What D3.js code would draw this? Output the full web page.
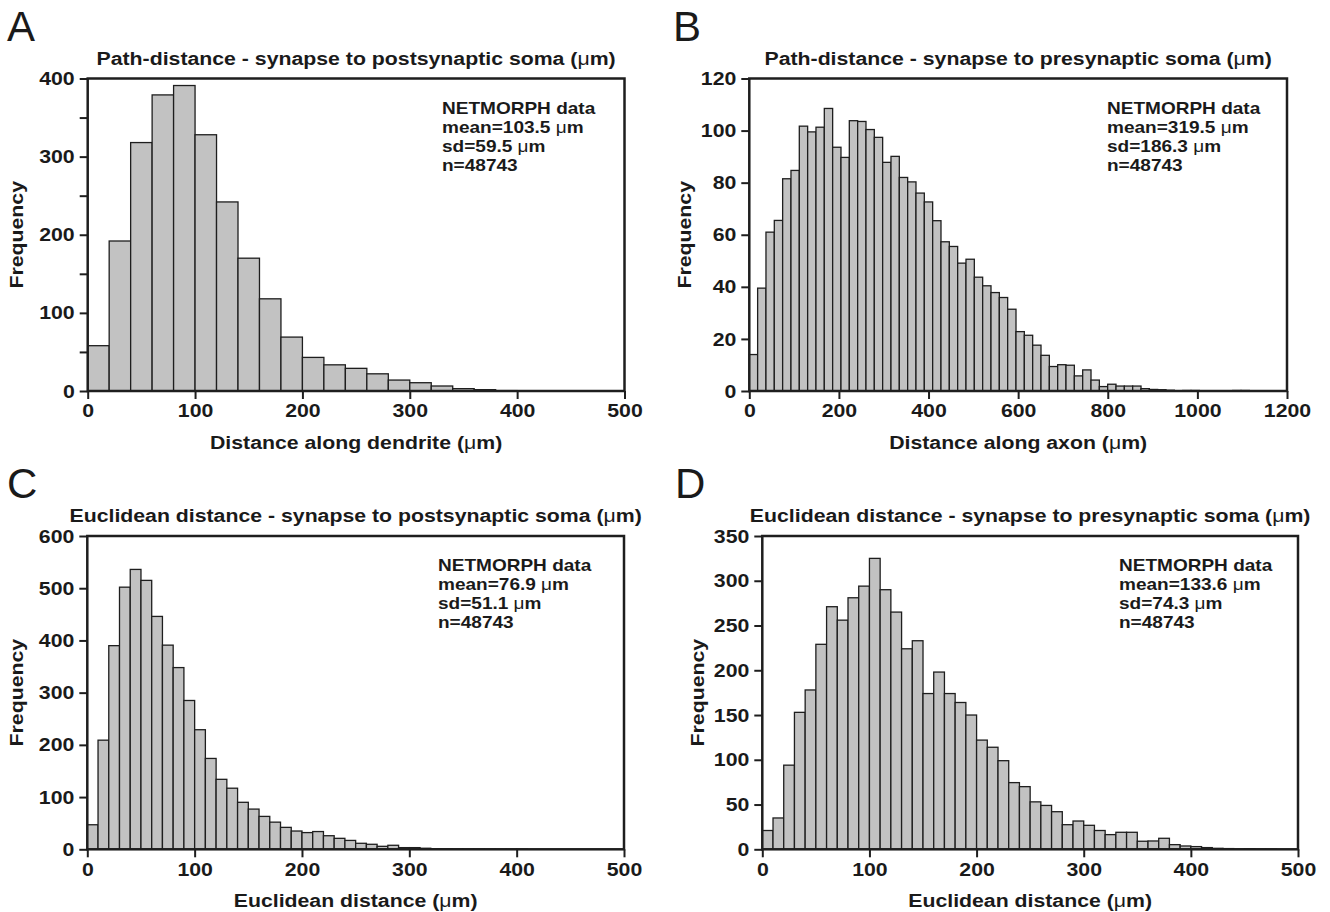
<!DOCTYPE html>
<html>
<head>
<meta charset="utf-8">
<script src="https://cdn.jsdelivr.net/npm/d3@7"></script>
<style>
  body { margin: 0; background: #fff; }
  svg text { font-family: "Liberation Sans", Arial, sans-serif; fill: #1a1a1a; }
</style>
</head>
<body>
<svg id="fig" width="1330" height="912"></svg>
<script>
// ---- data ----
// A: path distance to postsynaptic soma, bins of 20 um
const pathPostCounts = [58, 192, 318, 379, 391, 328, 242, 170, 118, 69, 43, 33.5, 29, 22, 14, 10.6, 6.4, 3, 1.7, 0.5, 0.3, 0.2];
// B: path distance to presynaptic soma, bins of ~18.6 um
const pathPreCounts = [14, 39.5, 61, 65.5, 81.5, 84.7, 101.7, 99.5, 101.3, 108.5, 93.6, 89.7, 103.8, 103.5, 100.4, 97.4,
  87.8, 90.1, 82, 80.3, 76, 72.6, 65.4, 57.3, 55.5, 49.1, 50.6, 43.7, 40.4, 37.8, 35.9, 31.4, 22.8, 21.4, 17.6, 13.7,
  9.4, 10.1, 9.9, 5.8, 8.1, 4.2, 1.7, 2.6, 1.9, 1.9, 1.9, 0.9, 0.6, 0.5, 0.3, 0, 0.2, 0.2, 0, 0, 0, 0, 0.2, 0.2];
// C: euclidean distance to postsynaptic soma, bins of 10 um
const euclPostCounts = [47, 209, 390, 502, 536, 515, 446, 391, 348, 285, 229, 174, 134, 117, 90, 77, 63, 52, 42, 35,
  32, 34, 26, 21, 17, 11.5, 9.6, 5.7, 7.7, 3.2, 3.2, 2, 1.2, 1, 0.8, 0.6, 0.5, 0.4, 0.3, 0.3, 0.2];
// D: euclidean distance to presynaptic soma, bins of 10 um
const euclPreCounts = [21, 35, 94, 153, 178, 229, 271, 256, 281, 294, 325, 290, 265, 224, 233, 174, 198, 174, 164, 150,
  122, 114, 99, 74.5, 70, 53, 49, 42, 27.5, 31.6, 26.8, 21, 16.4, 19, 19, 9, 9.3, 12.3, 5.2, 3.7, 3, 1.9, 1.1, 0.8,
  0.3, 0.6, 0.2, 0.1];

const binWidths = [20, 18.6, 10, 10];
const xMax = [500, 1200, 500, 500];
const yMax = [400, 120, 600, 350];
const xTickStep = [100, 200, 100, 100];
const yTickStep = [50, 20, 100, 50];
const yLabelStep = [100, 20, 100, 50];

const letters = ['A', 'B', 'C', 'D'];
const titles = [
  'Path-distance - synapse to postsynaptic soma (',
  'Path-distance - synapse to presynaptic soma (',
  'Euclidean distance - synapse to postsynaptic soma (',
  'Euclidean distance - synapse to presynaptic soma ('
];
const xTitles = ['Distance along dendrite (', 'Distance along axon (', 'Euclidean distance  (', 'Euclidean distance ('];
const statLines = [
  ['NETMORPH data', 'mean=103.5 ', 'sd=59.5 ', 'n=48743'],
  ['NETMORPH data', 'mean=319.5 ', 'sd=186.3 ', 'n=48743'],
  ['NETMORPH data', 'mean=76.9 ', 'sd=51.1 ', 'n=48743'],
  ['NETMORPH data', 'mean=133.6 ', 'sd=74.3 ', 'n=48743']
];
const allCounts = [pathPostCounts, pathPreCounts, euclPostCounts, euclPreCounts];

// ---- layout (pixel boxes of each plot frame) ----
const boxes = [
  { left: 87.7, right: 624.5, top: 78.5, bottom: 391, letterX: 7, freqX: 23, statX: 442 },
  { left: 749.3, right: 1287, top: 78.5, bottom: 391, letterX: 673, freqX: 691, statX: 1107 },
  { left: 87.3, right: 624, top: 536, bottom: 849.3, letterX: 7, freqX: 23, statX: 438 },
  { left: 762.3, right: 1298, top: 536, bottom: 849.3, letterX: 675, freqX: 704, statX: 1119 }
];

const SX = 1.12; // reference lettering is a bit wider than Liberation Sans
const FONT = 19;

const svg = d3.select('#fig');

// text placed with a horizontal stretch
function label(g, x, y, size, weight, anchor, rot) {
  return g.append('text')
    .attr('transform', `translate(${x},${y})${rot ? ' rotate(' + rot + ')' : ''} scale(${SX},1)`)
    .attr('font-size', size).attr('font-weight', weight)
    .attr('text-anchor', anchor);
}

boxes.forEach((b, i) => {
  const g = svg.append('g');
  const x = d3.scaleLinear().domain([0, xMax[i]]).range([b.left, b.right]);
  const y = d3.scaleLinear().domain([0, yMax[i]]).range([b.bottom, b.top]);
  const bw = binWidths[i];

  // bars
  g.selectAll('rect.bar')
    .data(allCounts[i])
    .enter().append('rect')
    .attr('class', 'bar')
    .attr('x', (d, k) => x(k * bw))
    .attr('width', (d, k) => x((k + 1) * bw) - x(k * bw))
    .attr('y', d => y(d))
    .attr('height', d => y(0) - y(d))
    .attr('fill', '#c2c2c2')
    .attr('stroke', '#1e1e1e')
    .attr('stroke-width', 1.3);

  // axes
  const yAxis = d3.axisLeft(y)
    .tickValues(d3.range(0, yMax[i] + 0.1, yTickStep[i]))
    .tickFormat(v => (v % yLabelStep[i] === 0 ? v : ''))
    .tickSize(8).tickPadding(5);
  const xAxis = d3.axisBottom(x)
    .tickValues(d3.range(0, xMax[i] + 0.1, xTickStep[i]))
    .tickFormat(d3.format('d'))
    .tickSize(8).tickPadding(5);

  const ya = g.append('g').attr('transform', `translate(${b.left},0)`).call(yAxis);
  const xa = g.append('g').attr('transform', `translate(0,${b.bottom})`).call(xAxis);
  [ya, xa].forEach(a => {
    a.select('.domain').remove();
    a.selectAll('line').attr('stroke', '#1e1e1e').attr('stroke-width', 2);
    a.selectAll('text').attr('font-size', FONT).attr('font-weight', 'bold')
      .attr('font-family', '"Liberation Sans", Arial, sans-serif').attr('fill', '#1a1a1a')
      .attr('transform', `scale(${SX},1)`);
  });
  ya.selectAll('text').attr('x', -13 / SX);

  // frame
  g.append('rect')
    .attr('x', b.left).attr('y', b.top)
    .attr('width', b.right - b.left).attr('height', b.bottom - b.top)
    .attr('fill', 'none').attr('stroke', '#1e1e1e').attr('stroke-width', 2.5);

  // panel letter
  g.append('text').attr('x', b.letterX).attr('y', b.top - 38)
    .attr('font-size', 42).text(letters[i]);

  // title
  const t = label(g, (b.left + b.right) / 2, b.top - 14, FONT, 'bold', 'middle');
  t.append('tspan').text(titles[i]);
  t.append('tspan').attr('font-weight', 'normal').text('\u03bc');
  t.append('tspan').text('m)');

  // x title
  const xt = label(g, (b.left + b.right) / 2, b.bottom + 58, FONT, 'bold', 'middle');
  xt.append('tspan').text(xTitles[i]);
  xt.append('tspan').attr('font-weight', 'normal').text('\u03bc');
  xt.append('tspan').text('m)');

  // y title
  label(g, b.freqX, (b.top + b.bottom) / 2, FONT, 'bold', 'middle', -90).text('Frequency');

  // stats box
  statLines[i].forEach((line, k) => {
    const st = label(g, b.statX, b.top + 35 + k * 19, 17, 'bold', 'start');
    st.append('tspan').text(line);
    if (k === 1 || k === 2) {
      st.append('tspan').attr('font-weight', 'normal').text('\u03bc');
      st.append('tspan').text('m');
    }
  });
});
</script>
</body>
</html>
